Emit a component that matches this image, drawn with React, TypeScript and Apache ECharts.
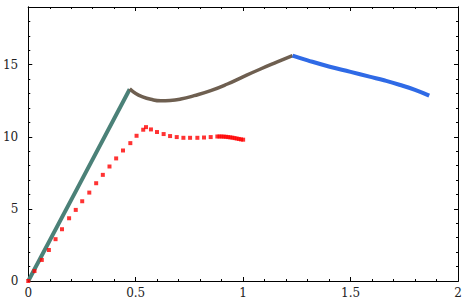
import React, { useEffect, useRef } from "react";
import * as echarts from "echarts";

const tealLine: number[][] = [[0, 0], [0.24, 6.75], [0.472, 13.3]];
const brownLine: number[][] = [
  [0.472, 13.33], [0.5, 13.0], [0.53, 12.78], [0.57, 12.6], [0.617, 12.5], [0.66, 12.52],
  [0.71, 12.62], [0.772, 12.85], [0.849, 13.2], [0.927, 13.66], [1.004, 14.19], [1.081, 14.7],
  [1.159, 15.19], [1.23, 15.63],
];
const blueLine: number[][] = [
  [1.23, 15.63], [1.3, 15.3], [1.403, 14.86], [1.5, 14.5], [1.588, 14.17], [1.66, 13.9],
  [1.727, 13.61], [1.8, 13.25], [1.866, 12.85],
];
const redPoints: number[][] = [
  [0, 0], [0.029, 0.69], [0.063, 1.46], [0.096, 2.15], [0.127, 2.9], [0.157, 3.59], [0.19, 4.35],
  [0.221, 4.93], [0.251, 5.53], [0.284, 6.13], [0.316, 6.78], [0.347, 7.36], [0.378, 7.94],
  [0.409, 8.5], [0.441, 9.05], [0.475, 9.56], [0.504, 10.07], [0.535, 10.49], [0.548, 10.67],
  [0.571, 10.51], [0.599, 10.33], [0.63, 10.19], [0.66, 10.05], [0.691, 9.98], [0.722, 9.93],
  [0.753, 9.93], [0.787, 9.93], [0.818, 9.95], [0.849, 9.98],
  [0.88, 10.02], [0.89, 10.02], [0.9, 10.02], [0.91, 10.01], [0.92, 10.0], [0.93, 9.98],
  [0.94, 9.96], [0.95, 9.94], [0.96, 9.91], [0.97, 9.88], [0.98, 9.85], [0.99, 9.82], [1.0, 9.8],
];

const xMin = 0, xMax = 2, xMajor = 0.5, xMinor = 0.1;
const yMin = 0, yMax = 19, yMajor = 5, yMinor = 1;

export default function App() {
  const ref = useRef<HTMLDivElement>(null);
  useEffect(() => {
    if (!ref.current) return;
    const chart = echarts.init(ref.current, undefined, { renderer: "svg" });
    const font = { fontFamily: "DejaVu Serif", fontSize: 12, color: "#222" };
    const line = { show: true, onZero: false, lineStyle: { color: "#000", width: 1 } };
    const mkX = (pos: string, interval: number, len: number, labels: boolean) => ({
      type: "value", position: pos, min: xMin, max: xMax, interval,
      axisLine: line, splitLine: { show: false },
      axisTick: { show: true, inside: true, length: len, lineStyle: { color: "#000", width: 1 } },
      axisLabel: labels ? { show: true, margin: 6, ...font } : { show: false },
    });
    const mkY = (pos: string, interval: number, len: number, labels: boolean) => ({
      type: "value", position: pos, min: yMin, max: yMax, interval,
      axisLine: line, splitLine: { show: false },
      axisTick: { show: true, inside: true, length: len, lineStyle: { color: "#000", width: 1 } },
      axisLabel: labels
        ? { show: true, margin: 10, ...font, formatter: (v: number) => (v % yMajor === 0 ? String(v) : "") }
        : { show: false },
    });
    chart.setOption({
      animation: false,
      backgroundColor: "#fff",
      grid: { left: 27, right: 8, top: 7, bottom: 22 },
      xAxis: [
        mkX("bottom", xMajor, 4, true),
        mkX("bottom", xMinor, 2, false),
        mkX("top", xMajor, 4, false),
        mkX("top", xMinor, 2, false),
      ],
      yAxis: [
        mkY("left", yMajor, 4, true),
        mkY("left", yMinor, 2, false),
        mkY("right", yMajor, 4, false),
        mkY("right", yMinor, 2, false),
      ],
      series: [
        {
          type: "line", data: tealLine, showSymbol: false, symbol: "none",
          lineStyle: { color: "#4b8178", width: 4 }, z: 3,
        },
        {
          type: "line", data: brownLine, smooth: true, symbol: "none",
          lineStyle: { color: "#6e5f50", width: 3.5 }, z: 3,
        },
        {
          type: "line", data: blueLine, smooth: true, symbol: "none",
          lineStyle: { color: "#2f6ae6", width: 4 }, z: 3,
        },
        {
          type: "scatter", data: redPoints, symbol: "rect", symbolSize: 4,
          itemStyle: { color: "#ff0000" }, z: 4,
        },
      ],
    });
    return () => chart.dispose();
  }, []);
  return (
    <div style={{ position: "fixed", left: 0, top: 0 }}>
      <div ref={ref} style={{ width: 466, height: 303 }} />
    </div>
  );
}
